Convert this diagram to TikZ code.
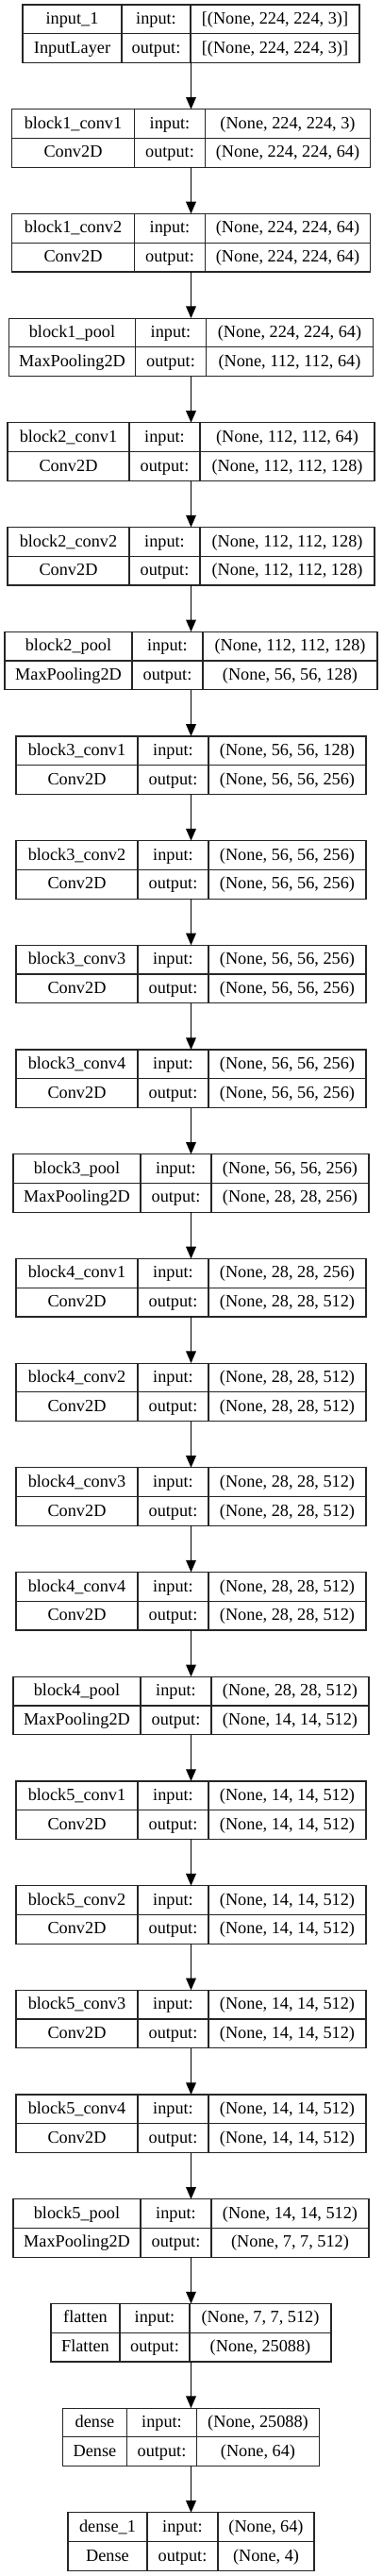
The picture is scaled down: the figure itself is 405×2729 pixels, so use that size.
\documentclass[tikz,border=0pt]{standalone}
\usepackage{fontspec}
\setmainfont{Liberation Serif}
\usetikzlibrary{arrows.meta}
\tikzset{
  layerbox/.style={draw=black!85, line width=0.9pt, inner sep=0pt, outer sep=0pt, anchor=north west},
  cellline/.style={draw=black!85, line width=0.9pt},
  celltxt/.style={anchor=base, inner sep=0pt, font=\fontsize{13.7pt}{16pt}\selectfont},
  arr/.style={draw=black, line width=0.9pt, -{Triangle[length=9.5pt,width=8pt]}}
}
\newcommand{\mylayer}[9]{%
  \pgfmathsetmacro\yt{5+110.7*#2}%
  \pgfmathsetmacro\ym{\yt+30.75}%
  \pgfmathsetmacro\yb{\yt+61.5}%
  \pgfmathsetmacro\ya{\yt+20.5}%
  \pgfmathsetmacro\yc{\yt+51.2}%
  \pgfmathsetmacro\W{#3+#4+#5}%
  \pgfmathsetmacro\xa{202.5-\W/2}%
  \pgfmathsetmacro\xb{\xa+#3}%
  \pgfmathsetmacro\xc{\xb+#4}%
  \pgfmathsetmacro\xd{\xc+#5}%
  \pgfmathsetmacro\ma{(\xa+\xb)/2}%
  \pgfmathsetmacro\mb{(\xb+\xc)/2}%
  \pgfmathsetmacro\mc{(\xc+\xd)/2}%
  \node[layerbox, minimum width={\W*0.75pt}, minimum height={61.5*0.75pt}] (#1) at (\xa,\yt) {};
  \draw[cellline] (\xb,\yt) -- (\xb,\yb) (\xc,\yt) -- (\xc,\yb) (\xa,\ym) -- (\xd,\ym);
  \node[celltxt] (#1-name) at (\ma,\ya) {#6};
  \node[celltxt] (#1-cls) at (\ma,\yc) {#7};
  \node[celltxt] (#1-inl) at (\mb,\ya) {input:};
  \node[celltxt] (#1-outl) at (\mb,\yc) {output:};
  \node[celltxt] (#1-in) at (\mc,\ya) {#8};
  \node[celltxt] (#1-out) at (\mc,\yc) {#9};
}
\begin{document}
\begin{tikzpicture}[x=0.75pt, y=-0.75pt]
\useasboundingbox (0,0) rectangle (405,2729);
\mylayer{L0}{0}{105}{73}{179}{input\_1}{InputLayer}{[(None, 224, 224, 3)]}{[(None, 224, 224, 3)]}
\mylayer{L1}{1}{130}{75}{175}{block1\_conv1}{Conv2D}{(None, 224, 224, 3)}{(None, 224, 224, 64)}
\mylayer{L2}{2}{130}{75}{175}{block1\_conv2}{Conv2D}{(None, 224, 224, 64)}{(None, 224, 224, 64)}
\mylayer{L3}{3}{134}{75}{177}{block1\_pool}{MaxPooling2D}{(None, 224, 224, 64)}{(None, 112, 112, 64)}
\mylayer{L4}{4}{129}{75}{185}{block2\_conv1}{Conv2D}{(None, 112, 112, 64)}{(None, 112, 112, 128)}
\mylayer{L5}{5}{129}{75}{185}{block2\_conv2}{Conv2D}{(None, 112, 112, 128)}{(None, 112, 112, 128)}
\mylayer{L6}{6}{135}{75}{185}{block2\_pool}{MaxPooling2D}{(None, 112, 112, 128)}{(None, 56, 56, 128)}
\mylayer{L7}{7}{129}{75}{167}{block3\_conv1}{Conv2D}{(None, 56, 56, 128)}{(None, 56, 56, 256)}
\mylayer{L8}{8}{129}{75}{167}{block3\_conv2}{Conv2D}{(None, 56, 56, 256)}{(None, 56, 56, 256)}
\mylayer{L9}{9}{129}{75}{167}{block3\_conv3}{Conv2D}{(None, 56, 56, 256)}{(None, 56, 56, 256)}
\mylayer{L10}{10}{129}{75}{167}{block3\_conv4}{Conv2D}{(None, 56, 56, 256)}{(None, 56, 56, 256)}
\mylayer{L11}{11}{135}{75}{167}{block3\_pool}{MaxPooling2D}{(None, 56, 56, 256)}{(None, 28, 28, 256)}
\mylayer{L12}{12}{129}{75}{167}{block4\_conv1}{Conv2D}{(None, 28, 28, 256)}{(None, 28, 28, 512)}
\mylayer{L13}{13}{129}{75}{167}{block4\_conv2}{Conv2D}{(None, 28, 28, 512)}{(None, 28, 28, 512)}
\mylayer{L14}{14}{129}{75}{167}{block4\_conv3}{Conv2D}{(None, 28, 28, 512)}{(None, 28, 28, 512)}
\mylayer{L15}{15}{129}{75}{167}{block4\_conv4}{Conv2D}{(None, 28, 28, 512)}{(None, 28, 28, 512)}
\mylayer{L16}{16}{135}{75}{167}{block4\_pool}{MaxPooling2D}{(None, 28, 28, 512)}{(None, 14, 14, 512)}
\mylayer{L17}{17}{129}{75}{167}{block5\_conv1}{Conv2D}{(None, 14, 14, 512)}{(None, 14, 14, 512)}
\mylayer{L18}{18}{129}{75}{167}{block5\_conv2}{Conv2D}{(None, 14, 14, 512)}{(None, 14, 14, 512)}
\mylayer{L19}{19}{129}{75}{167}{block5\_conv3}{Conv2D}{(None, 14, 14, 512)}{(None, 14, 14, 512)}
\mylayer{L20}{20}{129}{75}{167}{block5\_conv4}{Conv2D}{(None, 14, 14, 512)}{(None, 14, 14, 512)}
\mylayer{L21}{21}{135}{75}{167}{block5\_pool}{MaxPooling2D}{(None, 14, 14, 512)}{(None, 7, 7, 512)}
\mylayer{L22}{22}{73}{74}{150}{flatten}{Flatten}{(None, 7, 7, 512)}{(None, 25088)}
\mylayer{L23}{23}{68}{74}{130}{dense}{Dense}{(None, 25088)}{(None, 64)}
\mylayer{L24}{24}{84}{75}{102}{dense\_1}{Dense}{(None, 64)}{(None, 4)}
\foreach \a/\b in {0/1,1/2,2/3,3/4,4/5,5/6,6/7,7/8,8/9,9/10,10/11,11/12,12/13,13/14,14/15,15/16,16/17,17/18,18/19,19/20,20/21,21/22,22/23,23/24}
  \draw[arr] (L\a.south) -- (L\b.north);
\end{tikzpicture}
\end{document}
